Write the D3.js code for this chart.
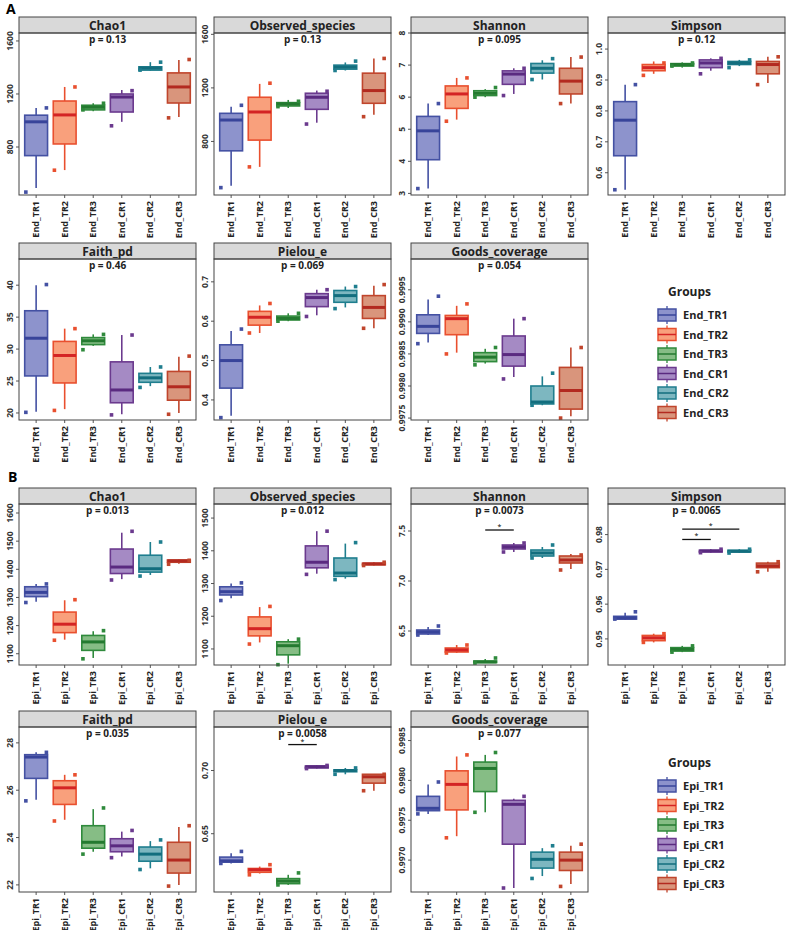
<!DOCTYPE html>
<html><head><meta charset="utf-8">
<script src="https://cdn.jsdelivr.net/npm/d3@7"></script>
<style>body{margin:0;background:#fff}text{font-family:"Open Sans","DejaVu Sans",sans-serif}</style>
</head><body><div id="chart"></div>
<script>
const groupsA = ["End_TR1","End_TR2","End_TR3","End_CR1","End_CR2","End_CR3"];
const groupsB = ["Epi_TR1","Epi_TR2","Epi_TR3","Epi_CR1","Epi_CR2","Epi_CR3"];
const stroke = ["#4451a3","#e9502f","#2f8a3c","#6b3a8e","#1f7e8e","#c0452c"];
const fill   = ["#8d93cc","#f9a07c","#86bd85","#a58ac4","#7db7c0","#d9957c"];
const medCol = ["#38449a","#d42424","#247a30","#5a2a80","#136e7e","#b32a20"];

// box stats per group: [whiskLow, q1, median, q3, whiskHigh]
const titles = ["Chao1","Observed_species","Shannon","Simpson","Faith_pd","Pielou_e","Goods_coverage"];
const pA = ["p = 0.13","p = 0.13","p = 0.095","p = 0.12","p = 0.46","p = 0.069","p = 0.054"];
const pB = ["p = 0.013","p = 0.012","p = 0.0073","p = 0.0065","p = 0.035","p = 0.0058","p = 0.077"];
const domA = [[438,1660],[400,1610],[2.95,8.0],[0.528,1.052],[18.9,44.1],[0.349,0.758],[0.99747,0.99998]];
const domB = [[1060,1632],[1051,1543],[6.16,7.77],[0.9425,0.9888],[21.7,28.67],[0.6039,0.7344],[0.9966,0.99867]];
const ticksA = [[800,1200,1600],[800,1200,1600],[3,4,5,6,7,8],[0.6,0.7,0.8,0.9,1.0],[20,25,30,35,40],[0.4,0.5,0.6,0.7],[0.9975,0.998,0.9985,0.999,0.9995]];
const ticksB = [[1100,1200,1300,1400,1500,1600],[1100,1200,1300,1400,1500],[6.5,7.0,7.5],[0.95,0.96,0.97,0.98],[22,24,26,28],[0.65,0.70],[0.997,0.9975,0.998,0.9985]];
const tickFmtA = [d3.format("d"),d3.format("d"),d3.format("d"),d3.format(".1f"),d3.format("d"),d3.format(".1f"),d3.format(".4f")];
const tickFmtB = [d3.format("d"),d3.format("d"),d3.format(".1f"),d3.format(".2f"),d3.format("d"),d3.format(".2f"),d3.format(".4f")];

const boxA = [
  [[490,735,990,1040,1095],[626,823,1042,1147,1253],[1070,1080,1100,1115,1130],[990,1064,1177,1200,1230],[1375,1380,1395,1405,1440],[1027,1132,1253,1359,1457]],
  [[470,730,960,1010,1060],[610,810,1020,1130,1230],[1050,1065,1080,1090,1110],[940,1040,1130,1160,1180],[1330,1340,1355,1370,1390],[1000,1085,1180,1310,1420]],
  [[3.15,4.05,4.95,5.4,5.8],[5.3,5.65,6.1,6.35,6.6],[6.0,6.05,6.12,6.2,6.25],[6.1,6.4,6.72,6.82,6.9],[6.55,6.75,6.9,7.05,7.15],[5.8,6.1,6.5,6.9,7.25]],
  [[0.545,0.655,0.77,0.83,0.885],[0.92,0.93,0.94,0.95,0.96],[0.94,0.945,0.95,0.953,0.957],[0.93,0.94,0.955,0.965,0.97],[0.945,0.95,0.955,0.96,0.965],[0.89,0.92,0.95,0.96,0.975]],
  [[20.2,25.8,31.7,36,40],[20.6,24.7,29,31.2,33.2],[30.5,30.7,31.3,31.8,32.3],[19.8,21.6,23.6,28,32.2],[24.2,24.8,25.5,26.2,27.2],[20,22,24.1,26.5,28.8]],
  [[0.36,0.43,0.5,0.54,0.575],[0.57,0.59,0.61,0.625,0.64],[0.6,0.603,0.607,0.613,0.62],[0.615,0.637,0.66,0.67,0.68],[0.635,0.648,0.665,0.678,0.688],[0.582,0.607,0.635,0.665,0.69]],
  [[0.99868,0.99882,0.99893,0.99911,0.99935],[0.99852,0.9988,0.99905,0.9991,0.99925],[0.99835,0.99838,0.99845,0.99852,0.99858],[0.99814,0.99831,0.99849,0.99878,0.99905],[0.9977,0.99772,0.99775,0.998,0.99815],[0.99753,0.99764,0.99793,0.99829,0.9986]]
];
const ptsA = [
  [[1095,460],[1253,625],[1130,1080],[1225,960],[1440,1380],[1460,1020]],
  [[1070,455],[1235,610],[1100,1060],[1175,930],[1400,1330],[1420,985]],
  [[5.8,3.15],[6.6,5.25],[6.3,6.0],[6.9,6.05],[7.2,6.55],[7.25,5.8]],
  [[0.885,0.545],[0.955,0.915],[0.955,0.945],[0.97,0.92],[0.965,0.94],[0.975,0.885]],
  [[40.1,20.1],[33.2,20.4],[32.3,29.9],[32.2,19.7],[27.2,24],[28.9,19.8]],
  [[0.58,0.355],[0.645,0.57],[0.62,0.6],[0.68,0.612],[0.688,0.632],[0.693,0.582]],
  [[0.9994,0.99866],[0.99928,0.9985],[0.9986,0.99833],[0.99905,0.99811],[0.9982,0.9977],[0.9986,0.9975]]
];
const boxB = [
  [[1285,1303,1318,1338,1348],[1150,1175,1205,1248,1290],[1085,1112,1142,1165,1180],[1365,1385,1408,1472,1530],[1380,1390,1402,1450,1497],[1420,1425,1430,1433,1435]],
  [[1255,1265,1275,1290,1300],[1120,1140,1162,1198,1228],[1055,1082,1110,1122,1130],[1330,1348,1365,1415,1460],[1315,1322,1332,1378,1422],[1355,1357,1360,1362,1365]],
  [[6.46,6.47,6.49,6.51,6.54],[6.28,6.29,6.31,6.33,6.36],[6.18,6.185,6.19,6.2,6.22],[7.29,7.32,7.34,7.36,7.38],[7.23,7.25,7.28,7.31,7.34],[7.12,7.18,7.21,7.25,7.27]],
  [[0.9555,0.9557,0.956,0.9565,0.9575],[0.949,0.9495,0.9503,0.951,0.9515],[0.9462,0.9465,0.947,0.9475,0.948],[0.9748,0.975,0.9753,0.9755,0.9758],[0.9747,0.975,0.9752,0.9755,0.9758],[0.9693,0.9705,0.971,0.9718,0.9722]],
  [[25.6,26.5,27.4,27.5,27.6],[24.75,25.4,26.1,26.4,26.65],[23.4,23.55,23.8,24.5,25.2],[23.2,23.4,23.65,23.95,24.25],[22.7,23.0,23.3,23.6,23.85],[22.0,22.5,23.05,23.8,24.45]],
  [[0.6265,0.6275,0.6285,0.6315,0.6345],[0.6185,0.6195,0.6215,0.6225,0.624],[0.6095,0.6105,0.6125,0.6145,0.6175],[0.7015,0.702,0.703,0.7035,0.704],[0.697,0.699,0.7,0.7005,0.702],[0.684,0.69,0.695,0.697,0.697]],
  [[0.99758,0.99762,0.99765,0.9978,0.99795],[0.9973,0.99763,0.99795,0.99812,0.9983],[0.9976,0.99786,0.99815,0.99823,0.99832],[0.99665,0.9972,0.9977,0.99775,0.99777],[0.9968,0.9969,0.99701,0.9971,0.99715],[0.9967,0.99687,0.997,0.9971,0.99718]]
];
const ptsB = [
  [[1348,1282],[1292,1148],[1182,1082],[1535,1362],[1497,1376],[1432,1418]],
  [[1302,1248],[1230,1115],[1130,1052],[1460,1328],[1425,1312],[1365,1355]],
  [[6.55,6.46],[6.36,6.28],[6.23,6.18],[7.38,7.29],[7.36,7.23],[7.26,7.11]],
  [[0.9578,0.9557],[0.9515,0.949],[0.948,0.9462],[0.9758,0.9748],[0.9758,0.9747],[0.9722,0.9693]],
  [[27.6,25.55],[26.65,24.7],[25.25,23.3],[24.3,23.15],[23.9,22.65],[24.5,21.95]],
  [[0.636,0.6265],[0.6255,0.6175],[0.619,0.6095],[0.704,0.7015],[0.702,0.697],[0.697,0.684]],
  [[0.99798,0.99758],[0.99832,0.99728],[0.99835,0.9976],[0.9978,0.99665],[0.99718,0.99677],[0.9972,0.99667]]
];
// significance brackets: [panel, fromGroup, toGroup, yValue]
const sigB = [[2,2,3,7.51],[3,2,3,0.9786],[3,2,4,0.9816],[5,2,3,0.7205]];

const W = 791, H = 930;
const colX = [19,214,411,608], panelW = 177, stripH = 16;
const rowsA = [[17,195],[243,420]], rowsB = [[488,665],[711,892]];

const svg = d3.select("#chart").append("svg").attr("width",W).attr("height",H);
svg.append("text").attr("x",6).attr("y",14).attr("font-size",14).attr("font-weight","bold").text("A");
svg.append("text").attr("x",8).attr("y",482).attr("font-size",14).attr("font-weight","bold").text("B");

function drawSection(groups, box, pts, doms, ticks, fmts, pvals, rows, sig, legendY) {
  titles.forEach((t, k) => {
    const row = rows[Math.floor(k/4)], x0 = colX[k%4];
    const top = row[0], pTop = top + stripH, pBot = row[1];
    const g = svg.append("g");
    const x = d3.scaleBand().domain(groups).range([x0, x0+panelW]).padding(0.2);
    const y = d3.scaleLinear().domain(doms[k]).range([pBot, pTop]);
    g.append("rect").attr("x",x0).attr("y",top).attr("width",panelW).attr("height",stripH)
      .attr("fill","#d9d9d9").attr("stroke","#444");
    g.append("text").attr("x",x0+panelW/2).attr("y",top+12.5).attr("text-anchor","middle")
      .attr("font-size",12).attr("font-weight","bold").attr("fill","#222").text(t);
    g.append("text").attr("x",x0+panelW/2).attr("y",pTop+10).attr("text-anchor","middle")
      .attr("font-size",10).attr("font-weight","bold").attr("fill","#222").text(pvals[k]);
    // y axis
    const ya = g.append("g").attr("transform",`translate(${x0},0)`)
      .call(d3.axisLeft(y).tickValues(ticks[k]).tickFormat(fmts[k]).tickSize(3));
    ya.select(".domain").remove();
    ya.selectAll("line").attr("stroke","#555");
    ya.selectAll("text").attr("font-size",8.5).attr("fill","#333").attr("font-weight","bold")
      .attr("transform", d => `rotate(-90, -6, ${y(d)})`).attr("x",-6).attr("dy",0)
      .attr("text-anchor","middle").attr("y", d => y(d));
    ya.selectAll(".tick").attr("transform","translate(0,0)");
    ya.selectAll(".tick line").attr("y1",d=>y(d)).attr("y2",d=>y(d));
    // x axis
    const xa = g.append("g").attr("transform",`translate(0,${pBot})`)
      .call(d3.axisBottom(x).tickSize(3));
    xa.select(".domain").remove();
    xa.selectAll("line").attr("stroke","#555");
    xa.selectAll("text").attr("font-size",9).attr("font-weight","bold").attr("fill","#222")
      .attr("transform","rotate(-90)").attr("text-anchor","end").attr("x",-6).attr("y",0).attr("dy","0.35em");
    // boxes
    const bw = x.bandwidth();
    groups.forEach((gr, i) => {
      const b = box[k][i], cx = x(gr) + bw/2;
      g.append("line").attr("x1",cx).attr("x2",cx).attr("y1",y(b[0])).attr("y2",y(b[4]))
        .attr("stroke",stroke[i]).attr("stroke-width",1.6);
      g.append("rect").attr("x",x(gr)).attr("width",bw).attr("y",y(b[3]))
        .attr("height",Math.max(1.5, y(b[1])-y(b[3])))
        .attr("fill",fill[i]).attr("stroke",stroke[i]).attr("stroke-width",1.6);
      g.append("line").attr("x1",x(gr)).attr("x2",x(gr)+bw).attr("y1",y(b[2])).attr("y2",y(b[2]))
        .attr("stroke",medCol[i]).attr("stroke-width",3);
      pts[k][i].forEach((v, j) => {
        const dx = j % 2 === 0 ? bw*0.45 : -bw*0.45;
        g.append("rect").attr("x",cx+dx-1.8).attr("y",y(v)-1.8).attr("width",3.6).attr("height",3.6)
          .attr("fill",stroke[i]);
      });
    });
    sig.filter(s => s[0] === k).forEach(s => {
      const x1 = x(groups[s[1]]) + bw/2, x2 = x(groups[s[2]]) + bw/2, yy = y(s[3]);
      g.append("line").attr("x1",x1).attr("x2",x2).attr("y1",yy).attr("y2",yy).attr("stroke","#111").attr("stroke-width",1.3);
      g.append("text").attr("x",(x1+x2)/2).attr("y",yy-1).attr("text-anchor","middle").attr("font-size",7).text("*");
    });
    g.append("rect").attr("x",x0).attr("y",pTop).attr("width",panelW).attr("height",pBot-pTop)
      .attr("fill","none").attr("stroke","#444");
  });
  // legend
  const lg = svg.append("g").attr("transform",`translate(658,${legendY})`);
  lg.append("text").attr("x",10).attr("y",0).attr("font-size",12).attr("font-weight","bold").attr("fill","#222").text("Groups");
  groups.forEach((gr, i) => {
    const yy = 19 + i*19.5;
    lg.append("line").attr("x1",9).attr("x2",9).attr("y1",yy-9).attr("y2",yy+9).attr("stroke",stroke[i]).attr("stroke-width",1.3);
    lg.append("rect").attr("x",0).attr("y",yy-6).attr("width",18).attr("height",12)
      .attr("fill",fill[i]).attr("stroke",stroke[i]).attr("stroke-width",1.5);
    lg.append("line").attr("x1",0).attr("x2",18).attr("y1",yy).attr("y2",yy).attr("stroke",medCol[i]).attr("stroke-width",1.5);
    lg.append("text").attr("x",25).attr("y",yy+4).attr("font-size",11).attr("font-weight","bold").attr("fill","#222").text(gr);
  });
}
drawSection(groupsA, boxA, ptsA, domA, ticksA, tickFmtA, pA, rowsA, [], 296);
drawSection(groupsB, boxB, ptsB, domB, ticksB, tickFmtB, pB, rowsB, sigB, 767);
</script></body></html>
